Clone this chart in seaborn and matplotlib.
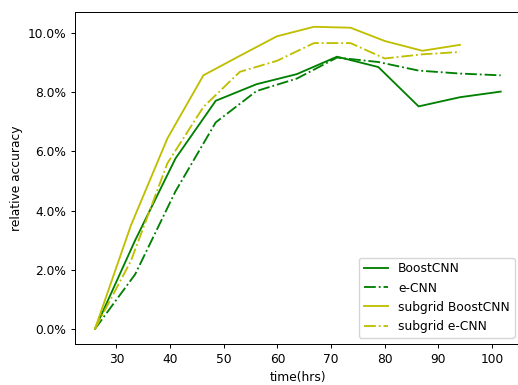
import matplotlib
matplotlib.use("Agg")
import matplotlib.pyplot as plt
import seaborn as sns
from matplotlib.ticker import PercentFormatter

# time (hrs)
time_full = [26.0, 33.5, 41.0, 48.5, 56.1, 63.6, 71.1, 78.8, 86.3, 94.0, 101.6]
time_sub = [26.0, 32.7, 39.5, 46.2, 53.0, 59.9, 66.8, 73.6, 80.0, 87.0, 94.0]

# relative accuracy (%)
boostcnn = [0.0, 3.0, 5.76, 7.71, 8.27, 8.61, 9.20, 8.85, 7.52, 7.83, 8.02]
ecnn = [0.0, 1.85, 4.65, 6.98, 8.04, 8.46, 9.17, 9.02, 8.73, 8.63, 8.57]
sub_boostcnn = [0.0, 3.5, 6.44, 8.57, 9.23, 9.89, 10.21, 10.18, 9.73, 9.40, 9.60]
sub_ecnn = [0.0, 2.3, 5.6, 7.5, 8.69, 9.06, 9.66, 9.66, 9.14, 9.28, 9.36]

s = 0.885
plt.rcParams.update({
    "font.size": 10 * s,
    "xtick.major.size": 3.5 * s,
    "ytick.major.size": 3.5 * s,
    "xtick.major.pad": 3.5 * s,
    "ytick.major.pad": 3.5 * s,
    "axes.labelpad": 4.0 * s,
    "axes.linewidth": 0.8 * s,
    "xtick.major.width": 0.8 * s,
    "ytick.major.width": 0.8 * s,
})

fig, ax = plt.subplots(figsize=(5.18, 3.85), dpi=100)
fig.subplots_adjust(left=0.1442, right=1.0058, top=0.9696, bottom=0.1065)

lw = 1.5 * s
sns.lineplot(x=time_full, y=boostcnn, ax=ax, color="green", linestyle="-", linewidth=lw, label="BoostCNN")
sns.lineplot(x=time_full, y=ecnn, ax=ax, color="green", linestyle="-.", linewidth=lw, label="e-CNN")
sns.lineplot(x=time_sub, y=sub_boostcnn, ax=ax, color="y", linestyle="-", linewidth=lw, label="subgrid BoostCNN")
sns.lineplot(x=time_sub, y=sub_ecnn, ax=ax, color="y", linestyle="-.", linewidth=lw, label="subgrid e-CNN")

ax.yaxis.set_major_formatter(PercentFormatter(xmax=100, decimals=1))
ax.set_xlabel("time(hrs)")
ax.set_ylabel("relative accuracy")
ax.legend(loc="lower right")

fig.savefig("out.png", dpi=100)
